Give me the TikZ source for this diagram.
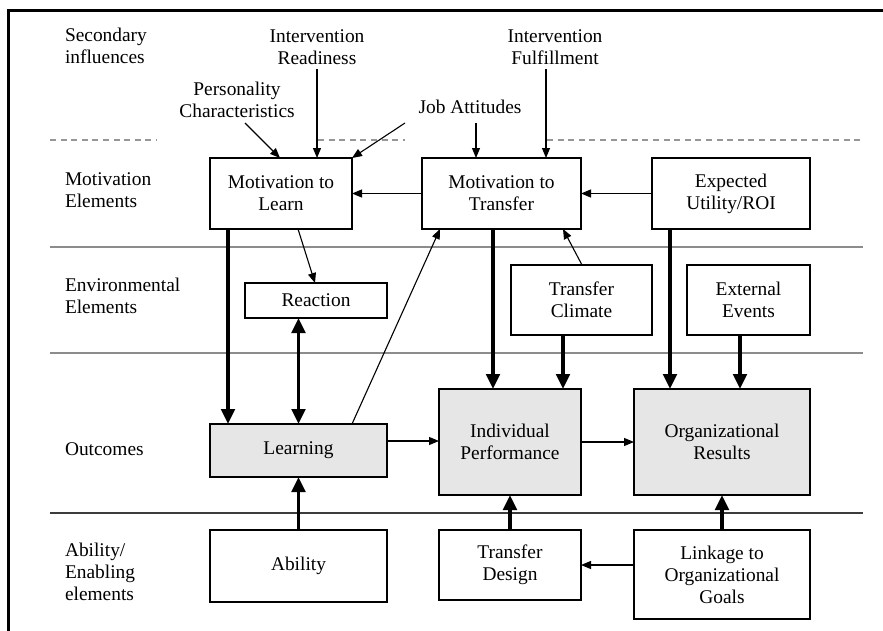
\documentclass[tikz,border=0pt]{standalone}
\usepackage{fontspec}
\setmainfont{Liberation Serif}
\usetikzlibrary{arrows.meta,calc}
\definecolor{outgray}{RGB}{230,230,230}
\definecolor{sepgray}{RGB}{140,140,140}
\definecolor{dashgray}{RGB}{150,150,150}
\definecolor{sepdark}{RGB}{60,60,60}

\begin{document}
\begin{tikzpicture}[x=0.5pt,y=-0.5pt,
  every node/.style={font=\fontsize{9.7}{11}\selectfont},
  box/.style={draw, line width=0.6pt, inner sep=0pt, outer sep=0pt, align=center, fill=white},
  outbox/.style={box, fill=outgray},
  lbl/.style={inner sep=0pt, outer sep=0pt, align=center},
  side/.style={inner sep=0pt, outer sep=0pt, anchor=base west, align=left},
  thinarr/.style={line width=0.55pt, -{Triangle[length=5pt,width=4pt]}},
  bigarr/.style={line width=1.7pt, -{Triangle[length=7.5pt,width=6.8pt]}},
  bigboth/.style={line width=1.7pt, {Triangle[length=7.5pt,width=6.8pt]}-{Triangle[length=7.5pt,width=6.8pt]}},
  sepline/.style={draw=sepgray, line width=0.6pt},
  dashline/.style={draw=dashgray, line width=0.6pt, dash pattern=on 3pt off 2.3pt},
]
\useasboundingbox (0,0) rectangle (883,631);

% outer frame (top and left edges)
\draw[line width=1.3pt] (8.5,631) -- (8.5,10.5) -- (883,10.5);

% band separators
\draw[dashline] (50,140) -- (157,140);
\draw[dashline] (318,140) -- (405,140);
\draw[dashline] (547,140) -- (860,140);
\draw[sepline] (50,247) -- (863,247);
\draw[sepline] (50,353) -- (863,353);
\draw[draw=sepdark, line width=0.6pt] (50,513) -- (863,513);

% band titles (anchored at the baseline of their last line)
\node[side] (s1) at (65,64) {Secondary\\influences};
\node[side] (s2) at (65,207) {Motivation\\Elements};
\node[side] (s3) at (65,313) {Environmental\\Elements};
\node[side] (s4) at (65,455) {Outcomes};
\node[side] (s5) at (65,600) {Ability/\\Enabling\\elements};

% secondary influences
\node[lbl, anchor=base] (ir) at (317,65) {Intervention\\Readiness};
\node[lbl, anchor=base] (pc) at (237,118) {Personality\\Characteristics};
\node[lbl, anchor=base] (ja) at (470,113) {Job Attitudes};
\node[lbl, anchor=base] (ifl) at (555,65) {Intervention\\Fulfillment};

% boxes
\node[box, minimum width=71pt, minimum height=35.5pt] (mlearn) at (281,193.5) {Motivation to\\Learn};
\node[box, minimum width=79.5pt, minimum height=35.5pt] (mtrans) at (501.5,193.5) {Motivation to\\Transfer};
\node[box, minimum width=79pt, minimum height=35.5pt] (expect) at (731,193.5) {Expected\\Utility/ROI};
\node[box, minimum width=71pt, minimum height=17.5pt] (react) at (316,300.5) {Reaction};
\node[box, minimum width=70.5pt, minimum height=35pt] (tclim) at (581.5,300) {Transfer\\Climate};
\node[box, minimum width=61.5pt, minimum height=35pt] (extev) at (748.5,300) {External\\Events};
\node[outbox, minimum width=88.5pt, minimum height=26.5pt] (learn) at (298.5,450.5) {Learning};
\node[outbox, minimum width=71pt, minimum height=53pt] (indperf) at (510,442) {Individual\\Performance};
\node[outbox, minimum width=88pt, minimum height=53pt] (orgres) at (722,442) {Organizational\\Results};
\node[box, minimum width=88.5pt, minimum height=36pt] (ability) at (298.5,566) {Ability};
\node[box, minimum width=71pt, minimum height=35pt] (tdesign) at (510,565) {Transfer\\Design};
\node[box, minimum width=88pt, minimum height=44.5pt] (linkage) at (722,574.5) {Linkage to\\Organizational\\Goals};

% influences on motivation
\draw[thinarr] ($(ir.base)+(0,4)$) -- ($(mlearn.north)+(36,0)$);
\draw[thinarr] ($(pc.base)+(8,5)$) -- ($(mlearn.north)+(-1,0)$);
\draw[thinarr] ($(ja.base)+(-65,10)$) -- (mlearn.north east);
\draw[thinarr] ($(ja.base)+(6,10)$) -- ($(mtrans.north)+(-25.5,0)$);
\draw[thinarr] ($(ifl.base)+(-9,4)$) -- ($(mtrans.north)+(44.5,0)$);

% thin links
\draw[thinarr] (mtrans.west) -- (mlearn.east);
\draw[thinarr] (expect.west) -- (mtrans.east);
\draw[thinarr] ($(mlearn.south)+(17,0)$) -- ($(react.north)+(-1,0)$);
\draw[thinarr] ($(learn.north)+(53.5,0)$) -- ($(mtrans.south)+(-61.5,0)$);
\draw[thinarr] ($(tclim.north)+(0.5,0)$) -- ($(mtrans.south)+(61.5,0)$);
\draw[thinarr] ($(learn.east)+(0,-9.5)$) -- ($(indperf.west)+(0,-1)$);
\draw[thinarr] (indperf.east) -- (orgres.west);
\draw[thinarr] ($(linkage.west)+(0,-9.5)$) -- (tdesign.east);

% heavy links
\draw[bigarr] ($(mlearn.south)+(-53,0)$) -- ($(learn.north)+(-70.5,0)$);
\draw[bigboth] ($(react.south)+(-17.5,0)$) -- (learn.north);
\draw[bigarr] ($(mtrans.south)+(-8.5,0)$) -- ($(indperf.north)+(-17,0)$);
\draw[bigarr] ($(tclim.south)+(-18.5,0)$) -- ($(indperf.north)+(53,0)$);
\draw[bigarr] ($(expect.south)+(-61,0)$) -- ($(orgres.north)+(-52,0)$);
\draw[bigarr] ($(extev.south)+(-8.5,0)$) -- ($(orgres.north)+(18,0)$);
\draw[bigarr] (ability.north) -- (learn.south);
\draw[bigarr] (tdesign.north) -- (indperf.south);
\draw[bigarr] (linkage.north) -- (orgres.south);
\end{tikzpicture}
\end{document}
